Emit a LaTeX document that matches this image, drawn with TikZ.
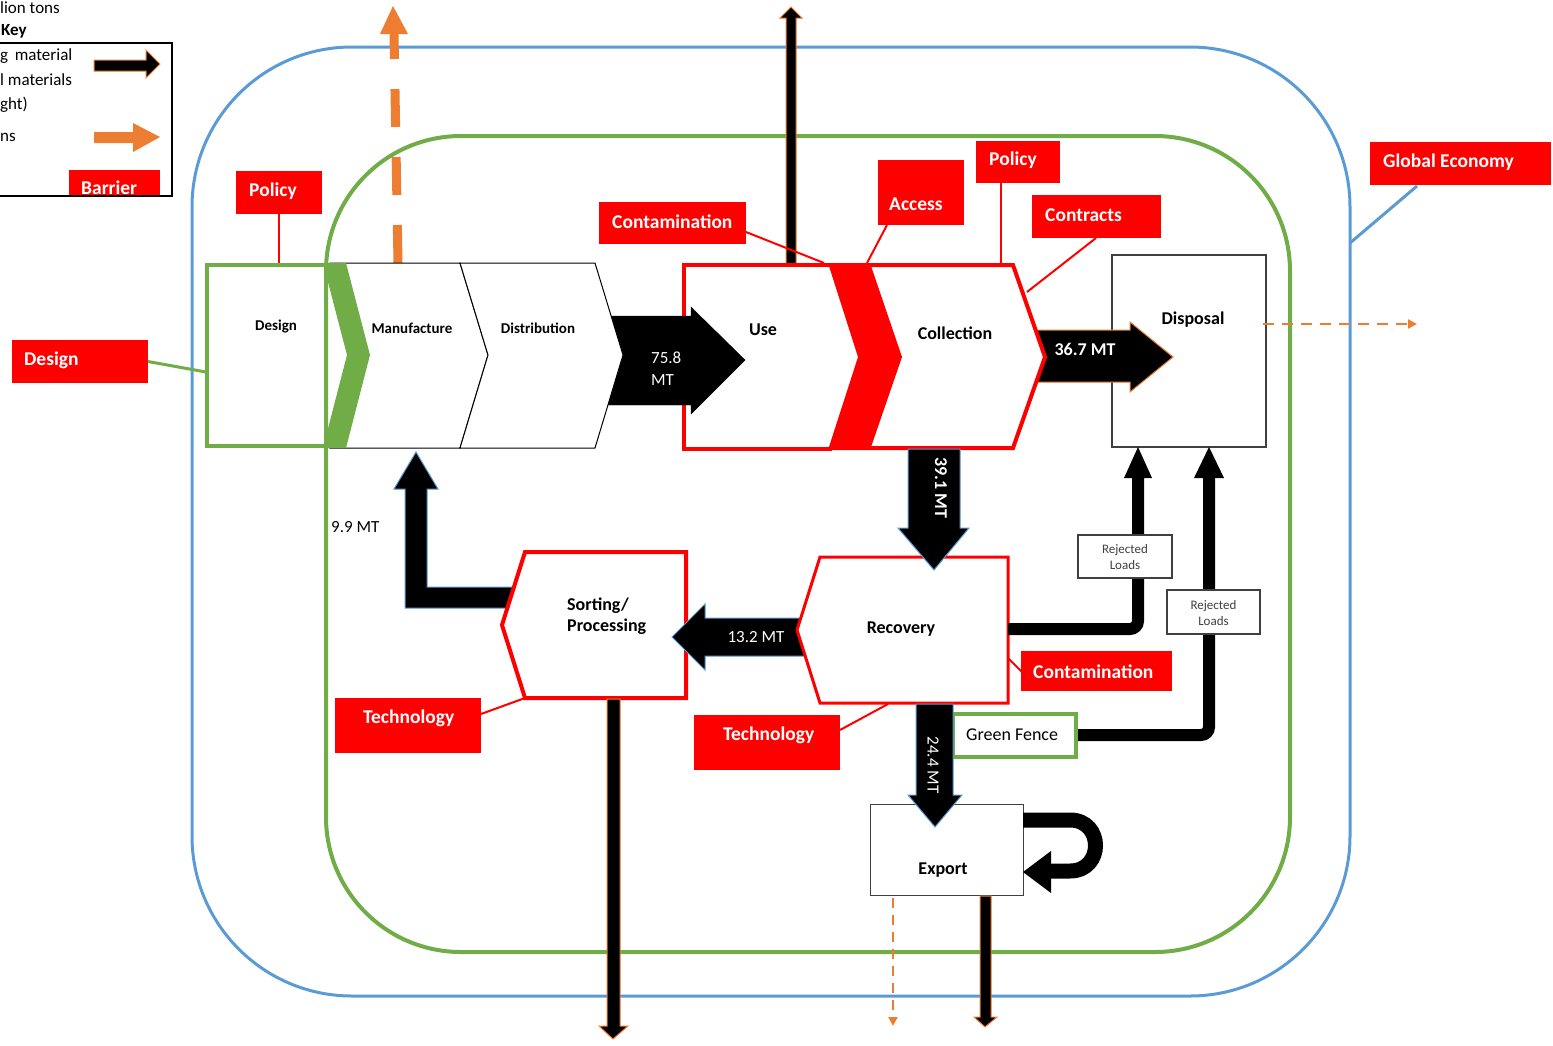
\documentclass[tikz,border=0pt]{standalone}
\usepackage{fontspec}
\setmainfont{Carlito}
\usetikzlibrary{arrows.meta}
\definecolor{gblue}{HTML}{5B9BD5}
\definecolor{ggreen}{HTML}{70AD47}
\definecolor{gorange}{HTML}{ED7D31}
\definecolor{gred}{HTML}{FF0000}
\definecolor{ggray}{HTML}{404040}
\newcommand\myfs[2]{\fontsize{#1}{#2}\selectfont}
\tikzset{
 lblbox/.style={fill=gred, draw=none, inner sep=0pt, outer sep=0pt},
 lbltxt/.style={text=white, font=\bfseries\myfs{19.5}{22}, inner sep=0pt, anchor=west},
 redline/.style={draw=gred, line width=2pt},
 blkA/.style={fill=black, draw=gblue, line width=1pt},
 blkO/.style={fill=black, draw=gorange, line width=1pt},
 chev/.style={fill=white, draw=black, line width=1pt},
 redshape/.style={fill=white, draw=gred, line width=4pt},
 wbox/.style={fill=white, draw=ggray, line width=1.2pt, inner sep=0pt},
 boldtxt/.style={font=\bfseries\myfs{18}{21}, inner sep=0pt},
 chtxt/.style={font=\bfseries\myfs{15}{18}, inner sep=0pt},
 numw/.style={text=white, font=\myfs{17}{22}, inner sep=0pt},
 numwb/.style={text=white, font=\bfseries\myfs{18}{21}, inner sep=0pt},
 keytxt/.style={font=\myfs{17}{20}, inner sep=0pt, anchor=west},
 rejtxt/.style={font=\myfs{13}{16}, align=center, text=ggray, inner sep=0pt},
 thickline/.style={line width=12pt, rounded corners=8pt},
 odash/.style={draw=gorange, line width=2.5pt, dash pattern=on 11pt off 8pt},
}
\begin{document}
\begin{tikzpicture}[x=1pt,y=-1pt]
\useasboundingbox (0,0) rectangle (1553,1045);

% frames
\draw[gblue, line width=3pt, rounded corners=160pt] (192,47) rectangle (1350,996);
\draw[ggreen, line width=4pt, rounded corners=135pt] (326,136) rectangle (1290,952);

% key
\node[keytxt] (k1) at (0,8) {lion tons};
\node[keytxt, font=\bfseries\myfs{17}{20}] (k2) at (1,31) {Key};
\node[keytxt] (k3) at (0,56) {g\, material};
\node[keytxt] (k4) at (0,80) {l materials};
\node[keytxt] (k5) at (0,105) {ght)};
\node[keytxt] (k6) at (0,137) {ns};
\node[lblbox, minimum width=91pt, minimum height=27pt, anchor=north west] (barrier) at (69,170) {};
\node[lbltxt] (barrierT) at (81,188) {Barrier};
\draw[line width=1.5pt] (-5,43) -- (172,43) -- (172,196) -- (-5,196);
\draw[blkO] (94,60) -- (146,60) -- (146,50) -- (160,64) -- (146,78) -- (146,71) -- (94,71) -- cycle;
\fill[gorange] (94,132) -- (133,132) -- (133,123) -- (160,137) -- (133,152) -- (133,143) -- (94,143) -- cycle;

% orange dashed arrow out of manufacture
\coordinate (mTop) at (398,263);
\coordinate (mOut) at (394,34);
\draw[gorange, line width=9pt, dash pattern=on 38pt off 30pt] (mTop) -- (mOut);
\fill[gorange] (380,34) -- (393,6) -- (408,34) -- cycle;

% black arrow out of use
\draw[blkO] (786,265) -- (786,18) -- (780,18) -- (791,7) -- (802,18) -- (796,18) -- (796,265) -- cycle;

% Use box
\draw[gred, line width=4pt, fill=white] (832,265) -- (684,265) -- (684,449) -- (832,449);
\node[boldtxt] (useT) at (763,330) {Use};

% 75.8 arrow
\draw[fill=black, draw=black] (600,316) -- (691,316) -- (691,307) -- (745,360) -- (691,414) -- (691,405) -- (600,405) -- cycle;
\node[numw, align=left, anchor=west] (n758) at (651,369) {75.8\\MT};

% chevrons
\draw[chev] (330,263) -- (460,263) -- (488,355) -- (460,448) -- (330,448) -- (354,355) -- cycle;
\draw[chev] (460,263) -- (595,263) -- (623,355) -- (595,448) -- (460,448) -- (488,355) -- cycle;
\draw[ggreen, line width=4pt, fill=white] (324,265) -- (207,265) -- (207,446) -- (324,446);
\fill[ggreen] (323,263) -- (346,263) -- (370,355) -- (346,448) -- (323,448) -- (347,355) -- cycle;
\node[chtxt] (designT) at (276,327) {Design};
\node[chtxt] (manuT) at (412,328) {Manufacture};
\node[chtxt] (distT) at (538,328) {Distribution};

% Disposal
\node[wbox, minimum width=154pt, minimum height=192pt] (disp) at (1189,351) {};
\node[boldtxt] (dispT) at (1193,320) {Disposal};
\coordinate (dIn) at (1263,324);
\coordinate (dOut) at (1417,324);
\draw[odash, -{Triangle[length=9pt,width=9pt]}] (dIn) -- (dOut);

% 36.7 arrow
\draw[blkO] (1030,330) -- (1130,330) -- (1130,322) -- (1173,357) -- (1130,392) -- (1130,382) -- (1030,382) -- cycle;
\node[numwb] (n367) at (1085,349) {36.7 MT};

% Collection
\draw[redshape] (870,265) -- (1013,265) -- (1045,357) -- (1013,448) -- (870,448);
\fill[gred] (828,263) -- (870,263) -- (902,357) -- (870,450) -- (828,450) -- (858,357) -- cycle;
\node[boldtxt] (collT) at (955,333) {Collection};

% 9.9 elbow arrow
\draw[blkA] (520,587) -- (427,587) -- (427,489) -- (438,489) -- (416,452) -- (394,489) -- (405,489) -- (405,608) -- (520,608) -- cycle;
\node[keytxt] (n99) at (331,527) {9.9 MT};

% Sorting
\draw[redshape] (525,552) -- (686,552) -- (686,698) -- (525,698) -- (502,625) -- cycle;
\node[boldtxt, align=left, anchor=west] (sortT) at (567,616) {Sorting/\\Processing};

% 13.2 arrow
\draw[blkA] (805,618) -- (705,618) -- (705,604) -- (672,637) -- (705,670) -- (705,656) -- (805,656) -- cycle;
\node[numw] (n132) at (756,637) {13.2 MT};

% Recovery
\draw[redshape, line width=3pt] (820,557) -- (1008,557) -- (1008,703) -- (820,703) -- (797,630) -- cycle;
\node[boldtxt] (recT) at (901,629) {Recovery};

% 39.1 arrow
\draw[blkA] (908,449) -- (960,449) -- (960,528) -- (969,528) -- (934,570) -- (898,528) -- (908,528) -- cycle;
\node[numwb, rotate=-90] (n391) at (941,488) {39.1 MT};

% rejected loads lines
\draw[thickline] (1008,629) -- (1138,629) -- (1138,476);
\fill (1124,478) -- (1138,447) -- (1152,478) -- cycle;
\draw[thickline] (1076,735) -- (1209,735) -- (1209,476);
\fill (1194,478) -- (1209,447) -- (1224,478) -- cycle;
\node[wbox, minimum width=94pt, minimum height=43pt] (rej1) at (1125,556.5) {};
\node[rejtxt] (rej1T) at (1125,557) {Rejected\\Loads};
\node[wbox, minimum width=93pt, minimum height=44pt] (rej2) at (1213.5,612) {};
\node[rejtxt] (rej2T) at (1213.5,613) {Rejected\\Loads};
\node[fill=white, draw=ggreen, line width=4pt, minimum width=123pt, minimum height=43pt, inner sep=0pt] (gf) at (1014.5,735.5) {};
\node[keytxt, font=\myfs{18}{21}] (gfT) at (966,735) {Green Fence};

% Export
\node[wbox, minimum width=153pt, minimum height=91pt] (exp) at (947,850) {};
\node[boldtxt] (expT) at (943,870) {Export};
\draw[blkA] (916,704) -- (953,704) -- (953,795) -- (962,795) -- (935,827) -- (908,795) -- (916,795) -- cycle;
\node[numw, rotate=-90] (n244) at (933,765) {24.4 MT};
\draw[line width=15pt] (1023,820) -- (1070,820) .. controls (1104,820) and (1104,871) .. (1070,871) -- (1048,871);
\fill (1051,851) -- (1023,872) -- (1051,893) -- cycle;
\coordinate (eOut1) at (893,898);
\coordinate (eOut2) at (893,1026);
\draw[odash, dash pattern=on 10pt off 7pt, -{Triangle[length=9pt,width=9pt]}] (eOut1) -- (eOut2);
\draw[blkO] (980,896) -- (991,896) -- (991,1017) -- (997,1017) -- (985,1027) -- (974,1017) -- (980,1017) -- cycle;

% Sorting down arrow
\draw[blkO] (607,699) -- (620,699) -- (620,1026) -- (628,1026) -- (613,1039) -- (599,1026) -- (607,1026) -- cycle;

% label connectors
\coordinate (c1) at (279,263);
\coordinate (c2) at (206,372);
\coordinate (c3a) at (746,232);
\coordinate (c3) at (824,263);
\coordinate (c4a) at (887,225);
\coordinate (c4) at (867,263);
\coordinate (c5) at (1001,263);
\coordinate (c6a) at (1096,238);
\coordinate (c6) at (1027,292);
\coordinate (c7a) at (1417,186);
\coordinate (c7) at (1350,243);
\coordinate (c8a) at (481,714);
\coordinate (c8) at (525,698);
\coordinate (c9a) at (840,730);
\coordinate (c9) at (888,704);
\coordinate (c10a) at (1008,658);
\coordinate (c10) at (1022,672);

% labels
\node[lblbox, minimum width=86pt, minimum height=43pt] (polL) at (279,192.5) {};
\node[lbltxt] (polLT) at (249,191) {Policy};
\draw[redline] (polL.south) -- (c1);

\node[lblbox, minimum width=136pt, minimum height=43pt] (desL) at (80,361.5) {};
\node[lbltxt] (desLT) at (24,360) {Design};
\draw[ggreen, line width=3pt] (desL.east) -- (c2);

\node[lblbox, minimum width=147pt, minimum height=42pt] (conT) at (672.5,223) {};
\node[lbltxt] (conTT) at (612,222) {Contamination};
\draw[redline] (c3a) -- (c3);

\node[lblbox, minimum width=86pt, minimum height=65pt] (acc) at (921,192.5) {};
\node[lbltxt] (accT) at (889,204) {Access};
\draw[redline] (c4a) -- (c4);

\node[lblbox, minimum width=84pt, minimum height=42pt] (polR) at (1018,162) {};
\node[lbltxt] (polRT) at (989,160) {Policy};
\draw[redline] (polR.south -| c5) -- (c5);

\node[lblbox, minimum width=129pt, minimum height=43pt] (ctr) at (1096.5,216.5) {};
\node[lbltxt] (ctrT) at (1045,215) {Contracts};
\draw[redline] (c6a) -- (c6);

\node[lblbox, minimum width=181pt, minimum height=43pt] (glob) at (1460.5,163.5) {};
\node[lbltxt] (globT) at (1383,162) {Global Economy};
\draw[gblue, line width=3pt] (c7a) -- (c7);

\node[lblbox, minimum width=146pt, minimum height=55pt] (techL) at (408,725.5) {};
\node[lbltxt] (techLT) at (363,718) {Technology};
\draw[redline] (c8a) -- (c8);

\node[lblbox, minimum width=146pt, minimum height=55pt] (techM) at (767,742.5) {};
\node[lbltxt] (techMT) at (723,735) {Technology};
\draw[redline] (c9a) -- (c9);

\node[lblbox, minimum width=151pt, minimum height=40pt] (conR) at (1096.5,671) {};
\node[lbltxt] (conRT) at (1033,672) {Contamination};
\draw[redline] (c10a) -- (c10);
\end{tikzpicture}
\end{document}
